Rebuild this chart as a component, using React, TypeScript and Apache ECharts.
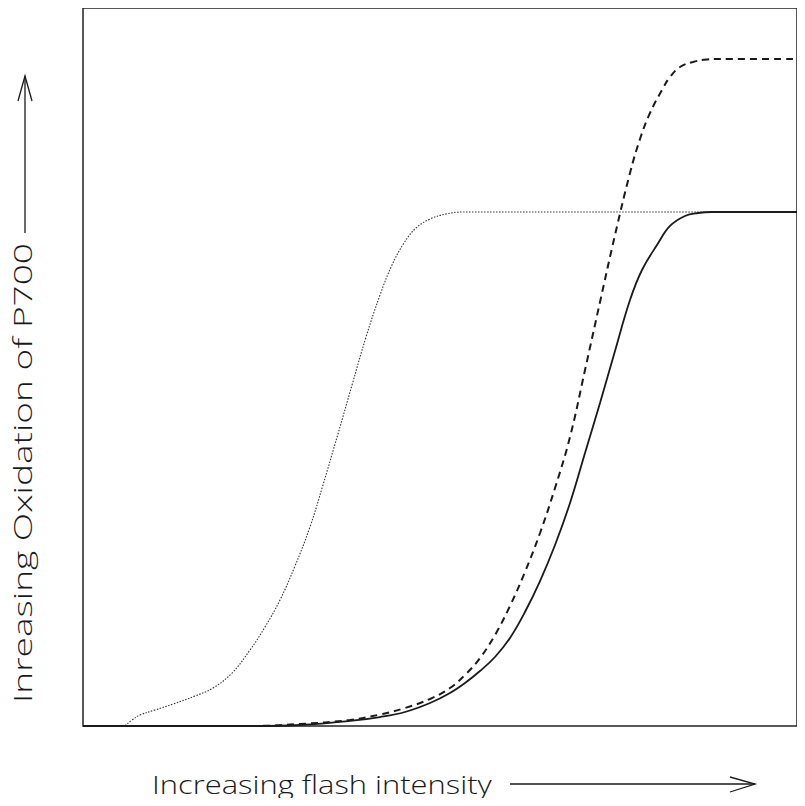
import React, { useEffect, useRef } from "react";
import * as echarts from "echarts";

// Relative flash intensity (0–100) vs. relative P700 oxidation (0–100)
const dottedCurve: [number, number][] = [
  [0, 0], [5.46, 0], [6.86, 0.84], [7.98, 1.53], [10.08, 2.23], [12.61, 3.06], [15.69, 4.18],
  [18.21, 5.29], [20.87, 7.38], [23.39, 10.58], [25.49, 13.79], [27.59, 17.55], [29.69, 22.28],
  [31.79, 27.72], [33.61, 33.57], [35.71, 40.67], [37.68, 47.49], [39.64, 54.18], [41.6, 60.03],
  [43.28, 64.21], [44.96, 67.27], [46.64, 69.36], [48.6, 70.61], [50.84, 71.31], [53.22, 71.59],
  [100, 71.59],
];

const dashedCurve: [number, number][] = [
  [0, 0], [23.39, 0], [30.39, 0.28], [37.39, 0.84], [41.6, 1.6], [45.1, 2.51], [48.6, 3.76],
  [51.4, 5.29], [53.5, 7.1], [55.6, 9.47], [57.7, 12.67], [59.8, 16.71], [61.9, 21.45],
  [64.01, 26.88], [66.11, 33.15], [68.21, 40.25], [70.31, 49.58], [72.41, 59.05], [74.51, 68.38],
  [76.61, 77.02], [78.01, 81.75], [79.41, 85.38], [81.09, 88.58], [82.21, 90.39], [83.61, 91.78],
  [85.43, 92.48], [87.39, 92.83], [89.22, 92.9], [100, 92.9],
];

const solidCurve: [number, number][] = [
  [0, 0], [23.39, 0], [30.39, 0.14], [37.39, 0.7], [41.6, 1.25], [45.1, 1.95], [48.6, 3.2],
  [51.4, 4.6], [53.5, 5.99], [55.6, 7.66], [57.7, 9.61], [59.8, 12.26], [61.9, 15.88],
  [64.01, 20.19], [66.11, 25.21], [68.21, 31.06], [70.31, 38.02], [72.41, 44.99], [74.51, 52.23],
  [76.61, 59.33], [78.29, 63.51], [80.39, 66.99], [82.21, 69.64], [84.31, 71.03], [86.13, 71.45],
  [88.1, 71.59], [100, 71.59],
];

const xTitle = "Increasing flash intensity";
const yTitle = "Inreasing Oxidation of P700";

const FONT_FAMILY = "'Open Sans', Lato, sans-serif";
const FONT = `300 26px ${FONT_FAMILY}`;

// Horizontal stretch so a title spans the wanted length in pixels
function stretchFor(text: string, length: number): number {
  const ctx = document.createElement("canvas").getContext("2d");
  if (!ctx) return 1;
  ctx.font = FONT;
  const w = ctx.measureText(text).width;
  return w > 0 ? length / w : 1;
}

export default function App() {
  const ref = useRef<HTMLDivElement>(null);

  useEffect(() => {
    if (!ref.current) return;
    const chart = echarts.init(ref.current, undefined, { renderer: "svg" });
    const ink = "#1a1a1a";

    const draw = () => {
      const sx = stretchFor(xTitle, 340);
      const sy = stretchFor(yTitle, 460);
      chart.setOption({
        animation: false,
        backgroundColor: "#ffffff",
        grid: {
          left: 83,
          top: 8,
          right: 8,
          bottom: 80,
          show: true,
          borderColor: "#222",
          borderWidth: 1.5,
        },
        xAxis: { type: "value", min: 0, max: 100, show: false },
        yAxis: { type: "value", min: 0, max: 100, show: false },
        series: [
          {
            type: "line",
            data: dottedCurve,
            smooth: 0.4,
            showSymbol: false,
            lineStyle: { color: "#333", width: 1.1, type: [1.5, 1.5] },
          },
          {
            type: "line",
            data: dashedCurve,
            smooth: 0.4,
            showSymbol: false,
            lineStyle: { color: ink, width: 2, type: [7, 5] },
          },
          {
            type: "line",
            data: solidCurve,
            smooth: 0.4,
            showSymbol: false,
            lineStyle: { color: ink, width: 1.8 },
          },
        ],
        graphic: [
          {
            type: "text",
            x: 152,
            y: 784,
            scaleX: sx,
            style: {
              text: xTitle,
              font: FONT,
              fill: ink,
              verticalAlign: "middle",
              align: "left",
            },
          },
          {
            type: "line",
            shape: { x1: 510, y1: 784, x2: 755, y2: 784 },
            style: { stroke: ink, lineWidth: 1.3 },
          },
          {
            type: "polyline",
            shape: { points: [[730, 777], [755, 784], [730, 792]] },
            style: { stroke: ink, lineWidth: 1.3, fill: null },
          },
          {
            type: "text",
            x: 22,
            y: 703,
            rotation: Math.PI / 2,
            scaleX: sy,
            style: {
              text: yTitle,
              font: FONT,
              fill: ink,
              verticalAlign: "middle",
              align: "left",
            },
          },
          {
            type: "line",
            shape: { x1: 25, y1: 233, x2: 25, y2: 76 },
            style: { stroke: ink, lineWidth: 1.3 },
          },
          {
            type: "polyline",
            shape: { points: [[18, 101], [25, 76], [32, 101]] },
            style: { stroke: ink, lineWidth: 1.3, fill: null },
          },
        ],
      });
    };

    draw();
    let alive = true;
    if (document.fonts && document.fonts.load) {
      document.fonts.load(FONT).then(() => {
        if (alive) draw();
      });
    }
    return () => {
      alive = false;
      chart.dispose();
    };
  }, []);

  return <div ref={ref} style={{ width: 805, height: 806, margin: -8 }} />;
}
